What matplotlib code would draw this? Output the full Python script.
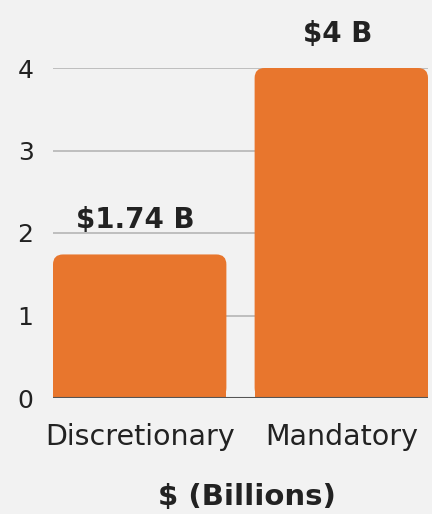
import matplotlib
matplotlib.use("Agg")
from matplotlib import pyplot as plt
from matplotlib.patches import FancyBboxPatch, Rectangle

categories = ["Discretionary", "Mandatory"]
values = [1.74, 4.0]
value_labels = ["$1.74 B", "$4 B"]
y_ticks = [0, 1, 2, 3, 4]

bar_color = "#e8762d"
bg = "#f2f2f2"
text_color = "#222222"
plt.rcParams["font.family"] = ["DejaVu Sans"]

fig = plt.figure(figsize=(4.32, 5.14), dpi=100, facecolor=bg)
ax = fig.add_axes([53/432, 116/514, 375/432, 330/514], facecolor=bg)

width = 0.86
ax.set_xlim(-width/2, 1 + width/2)
ax.set_ylim(0, 4)

# rounded tops: pixel scale used to keep corners circular
px_x = 375 / (1 + width)
px_y = 330 / 4
r = 10 / px_x
ry = r * px_x / px_y
for i, v in enumerate(values):
    box = FancyBboxPatch((i - width/2 + r, ry), width - 2*r, v - 2*ry,
                         boxstyle="round,pad=%f" % r, mutation_aspect=px_x/px_y,
                         fc=bar_color, ec="none", zorder=3, clip_on=False)
    ax.add_patch(box)
    ax.add_patch(Rectangle((i - width/2, 0), width, v/2, fc=bar_color, ec="none", zorder=3))
    ax.text(i - 0.02, v + 0.32, value_labels[i], ha="center", va="baseline", fontsize=20,
            fontweight="bold", color=text_color, clip_on=False)

for t in y_ticks[1:]:
    ax.axhline(t, color="#b5b5b5", lw=1.2, zorder=1)
ax.axhline(0, color="#555555", lw=1.5, zorder=4)

for s in ax.spines.values():
    s.set_visible(False)
ax.set_yticks(y_ticks)
ax.set_yticklabels([str(t) for t in y_ticks], fontsize=18, color=text_color)
ax.set_xticks([0, 1])
ax.set_xticklabels(categories, fontsize=20.5, color=text_color)
ax.tick_params(length=0)
ax.tick_params(axis="y", pad=14)
ax.tick_params(axis="x", pad=18)

fig.text(247/432, 1 - 497/514, "$ (Billions)", ha="center", va="center",
         fontsize=21, fontweight="bold", color=text_color)

fig.savefig("out.png", dpi=100, facecolor=bg)
